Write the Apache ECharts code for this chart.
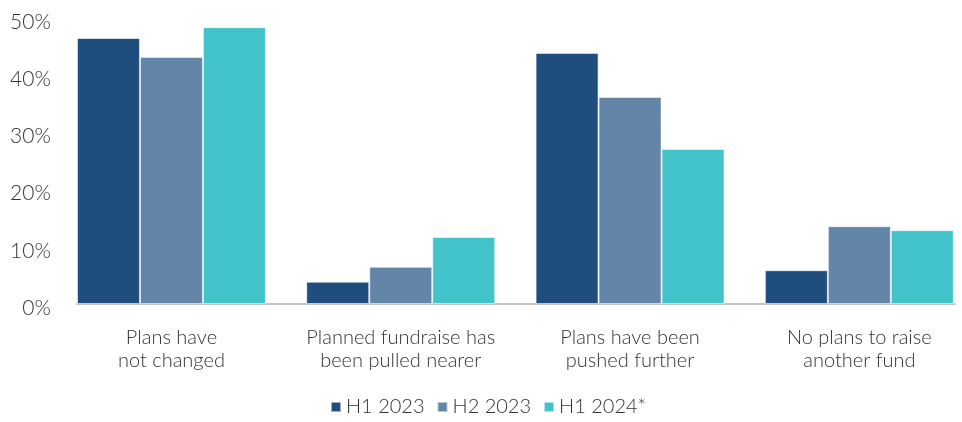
<!DOCTYPE html>
<html>
<head>
<meta charset="utf-8">
<style>
  html, body { margin: 0; padding: 0; background: #ffffff; overflow: hidden; }
  /* the plot band runs a little past the right edge of the window */
  #chart { width: 974px; height: 422px; }
</style>
<script src="https://cdn.jsdelivr.net/npm/echarts@6/dist/echarts.min.js"></script>
</head>
<body>
<div id="chart"></div>
<script>
// Survey response categories (x axis)
const categories = [
  'Plans have\nnot changed',
  'Planned fundraise has\nbeen pulled nearer',
  'Plans have been\npushed further',
  'No plans to raise\nanother fund'
];

// Share of respondents, in percent
const h1_2023 = [46.5, 3.9, 43.9, 5.9];
const h2_2023 = [43.2, 6.5, 36.2, 13.6];
const h1_2024 = [48.4, 11.7, 27.1, 12.9];

const seriesNames = ['H1 2023', 'H2 2023', 'H1 2024*'];
const seriesColors = ['#1f4e7e', '#6285a8', '#41c3c9'];

const yMin = 0, yMax = 50, yStep = 10;

const FONT = 'Lato, "Open Sans", sans-serif';
const WEIGHT = 300;
const TEXT = '#333333';

const chart = echarts.init(document.getElementById('chart'), null, { renderer: 'canvas' });

function barSeries(name, data, color) {
  return {
    name: name,
    type: 'bar',
    xAxisIndex: 0,
    yAxisIndex: 0,
    data: data,
    barGap: '0%',
    barCategoryGap: '17.6%',
    itemStyle: { color: color, borderColor: 'rgba(255,255,255,0.55)', borderWidth: 1 },
    emphasis: { disabled: true }
  };
}

chart.setOption({
  animation: false,
  textStyle: { fontFamily: FONT, fontWeight: WEIGHT },
  legend: {
    data: seriesNames,
    bottom: 0,
    left: 325,
    itemWidth: 10,
    itemHeight: 10,
    itemGap: 12,
    icon: 'rect',
    textStyle: { fontFamily: FONT, fontWeight: WEIGHT, fontSize: 20, color: TEXT, padding: [2, 0, 0, 0] }
  },
  grid: [
    { left: 56.8, right: 0, top: 18, bottom: 118, containLabel: false },
    // baseline grid: spans only the width occupied by the bars
    { left: 77, right: 19, top: 18, bottom: 118, containLabel: false }
  ],
  xAxis: [
    {
      type: 'category',
      gridIndex: 0,
      data: categories,
      axisLine: { show: false },
      axisTick: { show: false },
      axisLabel: {
        margin: 22,
        fontFamily: FONT,
        fontWeight: WEIGHT,
        fontSize: 20,
        lineHeight: 23,
        color: TEXT,
        interval: 0
      }
    },
    {
      type: 'value',
      gridIndex: 1,
      min: 0,
      max: 1,
      axisLine: { show: true, lineStyle: { color: '#c4c4c4', width: 2 } },
      axisTick: { show: false },
      axisLabel: { show: false },
      splitLine: { show: false }
    }
  ],
  yAxis: [
    {
      type: 'value',
      gridIndex: 0,
      min: yMin,
      max: yMax,
      interval: yStep,
      axisLine: { show: false },
      axisTick: { show: false },
      splitLine: { show: false },
      axisLabel: {
        margin: 6,
        fontFamily: FONT,
        fontWeight: WEIGHT,
        fontSize: 21,
        color: TEXT,
        verticalAlign: 'top',
        lineHeight: 8,
        formatter: v => v + '%'
      }
    },
    {
      type: 'value',
      gridIndex: 1,
      min: yMin,
      max: yMax,
      show: false
    }
  ],
  series: [
    barSeries(seriesNames[0], h1_2023, seriesColors[0]),
    barSeries(seriesNames[1], h2_2023, seriesColors[1]),
    barSeries(seriesNames[2], h1_2024, seriesColors[2])
  ]
});
</script>
</body>
</html>
